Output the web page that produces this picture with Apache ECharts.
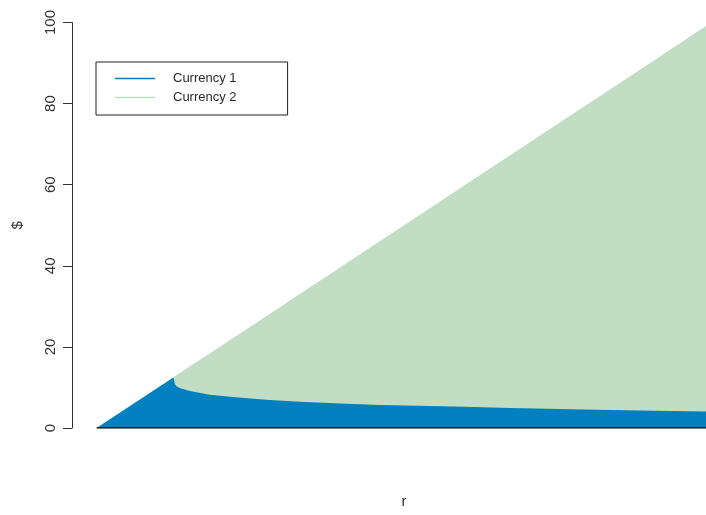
<!DOCTYPE html>
<html>
<head>
<meta charset="utf-8">
<script src="https://cdn.jsdelivr.net/npm/echarts@6/dist/echarts.min.js"></script>
<style>
  html, body { margin: 0; padding: 0; background: #ffffff; }
  #chart { width: 706px; height: 515px; }
</style>
</head>
<body>
<div id="chart"></div>
<script>
// Rate r along the x axis
const rValues   = [0, 12.5, 12.75, 13.0, 13.6, 15.2, 17.3, 18.4, 20.1, 21.7, 25.0, 28.2, 33.1, 39.6, 46.1, 54.2, 59.9, 67.2, 75.4, 83.5, 93.3, 100];
// Total holding in $ (Currency 1 + Currency 2, top of the green band)
const totals    = [0, 12.5, 12.75, 13.0, 13.6, 15.2, 17.3, 18.4, 20.1, 21.7, 25.0, 28.2, 33.1, 39.6, 46.1, 54.2, 59.9, 67.2, 75.4, 83.5, 93.3, 100];
// Amount held in Currency 1
const currency1 = [0, 12.45, 10.8, 10.3, 9.8, 9.15, 8.5, 8.2, 7.93, 7.68, 7.27, 6.9, 6.45, 6.06, 5.7, 5.44, 5.22, 4.93, 4.68, 4.43, 4.19, 4.06];
// Y-axis tick values
const yTicks = [0, 20, 40, 60, 80, 100];

const seriesNames = ['Currency 1', 'Currency 2'];
const colors = ['#0080c0', '#c1ddc3'];

const font = 'Liberation Sans, Arial, sans-serif';

const chart = echarts.init(document.getElementById('chart'), null, { renderer: 'canvas' });

chart.setOption({
  animation: false,
  backgroundColor: '#ffffff',
  // the visible window cuts the plot region just before r = 100
  grid: { left: 72, top: 22.5, right: 0, height: 405.5, containLabel: false },
  xAxis: {
    type: 'value',
    min: -4,
    max: 99.12,
    name: 'r',
    nameLocation: 'middle',
    nameGap: 66,
    nameTextStyle: { fontFamily: font, fontSize: 15, color: '#333', padding: [0, 0, 0, 30] },
    axisLine: { show: false, onZero: false },
    axisTick: { show: false },
    axisLabel: { show: false },
    splitLine: { show: false }
  },
  yAxis: {
    type: 'value',
    min: 0,
    max: 100,
    interval: 20,
    name: '$',
    nameLocation: 'middle',
    nameGap: 47,
    nameTextStyle: { fontFamily: font, fontSize: 15, color: '#333' },
    axisLine: { show: true, onZero: false, lineStyle: { color: '#333', width: 1 } },
    axisTick: { show: true, length: 9, lineStyle: { color: '#333', width: 1 } },
    axisLabel: {
      rotate: 90,
      margin: 14,
      fontFamily: font,
      fontSize: 15,
      color: '#333',
      customValues: yTicks
    },
    splitLine: { show: false }
  },
  legend: {
    orient: 'vertical',
    left: 96,
    top: 62,
    data: seriesNames.map(n => ({ name: n, icon: 'rect' })),
    itemWidth: 40,
    itemHeight: 1.5,
    itemGap: 4,
    padding: [9, 51, 10, 19],
    borderColor: '#222',
    borderWidth: 1,
    borderRadius: 0,
    backgroundColor: '#ffffff',
    textStyle: { fontFamily: font, fontSize: 13, color: '#2a2a2a', lineHeight: 15, padding: [0, 0, 0, 13] }
  },
  series: [
    {
      // green band: everything up to the total, Currency 1 is laid over it
      name: seriesNames[1],
      type: 'line',
      data: rValues.map((r, i) => [r, totals[i]]),
      symbol: 'none',
      lineStyle: { width: 0 },
      areaStyle: { color: colors[1], opacity: 1 },
      itemStyle: { color: colors[1] },
      z: 2
    },
    {
      name: seriesNames[0],
      type: 'line',
      data: rValues.map((r, i) => [r, currency1[i]]),
      symbol: 'none',
      lineStyle: { width: 0 },
      areaStyle: { color: colors[0], opacity: 1 },
      itemStyle: { color: colors[0] },
      z: 3
    },
    {
      // base line under the bands
      name: 'base',
      type: 'line',
      data: [[rValues[0], 0], [rValues[rValues.length - 1], 0]],
      symbol: 'none',
      lineStyle: { color: '#111', width: 1.3 },
      silent: true,
      z: 4
    }
  ]
});
</script>
</body>
</html>
